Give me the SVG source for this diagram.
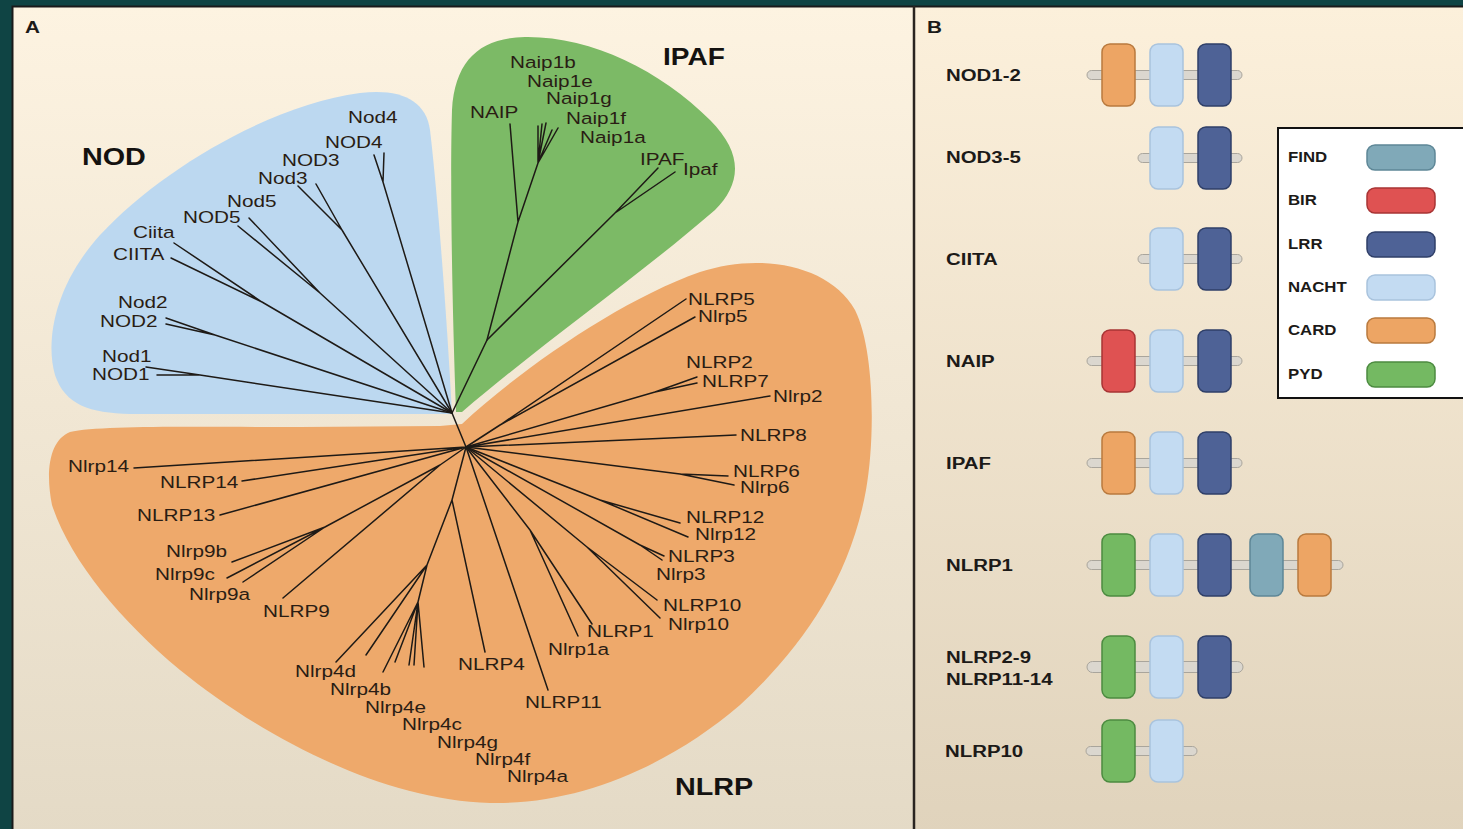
<svg xmlns="http://www.w3.org/2000/svg" width="1463" height="829" viewBox="0 0 1463 829">
<defs>
<linearGradient id="bgL" x1="0" y1="0" x2="0" y2="1">
<stop offset="0" stop-color="#fdf3e1"/><stop offset="1" stop-color="#e4dac6"/>
</linearGradient>
<linearGradient id="bgR" x1="0" y1="0" x2="0" y2="1">
<stop offset="0" stop-color="#fcf0db"/><stop offset="1" stop-color="#e0d3bc"/>
</linearGradient>
<style>
.t{font-family:"Liberation Sans",Arial,sans-serif;font-size:17px;fill:#2a1d14}
.b{font-family:"Liberation Sans",Arial,sans-serif;font-size:17px;font-weight:bold;fill:#1c1a18}
.h{font-family:"Liberation Sans",Arial,sans-serif;font-size:23px;font-weight:bold;fill:#141210}
.lg{font-family:"Liberation Sans",Arial,sans-serif;font-size:14px;font-weight:bold;fill:#1c1a18}
.br{stroke:#1e1a16;stroke-width:1.5;fill:none;stroke-linecap:round}
.bar{fill:#dbd7cf;stroke:#a9a59c;stroke-width:1}
.card{fill:#eda564;stroke:#b97a3e;stroke-width:1.5}
.nacht{fill:#c3dbf2;stroke:#a9c3dd;stroke-width:1.5}
.lrr{fill:#4e6296;stroke:#2f3f68;stroke-width:1.5}
.bir{fill:#df5252;stroke:#a83434;stroke-width:1.5}
.find{fill:#80a9b8;stroke:#5e8797;stroke-width:1.5}
.pyd{fill:#74b962;stroke:#4c8b40;stroke-width:1.5}
</style>
</defs>
<rect x="0" y="0" width="1463" height="829" fill="#0f4444"/>
<rect x="12" y="6" width="903" height="830" fill="url(#bgL)"/>
<rect x="915" y="6" width="560" height="830" fill="url(#bgR)"/>
<rect x="12.5" y="6.5" width="1460" height="830" fill="none" stroke="#1a1a1a" stroke-width="2"/>
<line x1="914" y1="6" x2="914" y2="829" stroke="#2a2420" stroke-width="2.5"/>

<g id="clades">
<path id="nod-clade" fill="#bcd8f0" d="M452,414 C446,300 436,180 430,130 C426,100 400,88 360,93 C270,105 160,170 100,235 C55,285 45,340 55,375 C65,405 90,413 130,414 Z"/>
<path id="ipaf-clade" fill="#7cba66" d="M456,412 C452,300 450,180 452,110 C455,60 480,38 525,37 C590,36 660,70 710,120 C745,155 740,185 715,210 C640,275 540,345 462,412 Z"/>
<path id="nlrp-clade" fill="#eea96b" d="M462,424 C520,370 620,300 700,272 C760,252 830,265 855,310 C875,350 875,440 866,490 C850,580 800,650 740,705 C670,765 580,805 490,803 C380,800 260,735 180,670 C120,620 70,560 52,505 C45,470 50,440 70,432 C100,425 200,427 300,427 L440,426 Z"/>
</g>

<g id="connectors" class="br">
<path d="M383,182 L452,413 M374,155 L383,182 M384,153 L383,182"/>
<path d="M342,230 L452,413 M298,186 L342,230 M316,184 L342,230"/>
<path d="M320,293 L452,413 M238,226 L320,293 M249,218 L320,293"/>
<path d="M262,302 L452,413 M171,258 L262,302 M174,243 L262,302"/>
<path d="M215,335 L452,413 M166,318 L215,335 M166,324 L215,335"/>
<path d="M200,375 L452,413 M146,367 L200,375 M157,375 L200,375"/>
<path d="M452,413 L487,340 L518,222 L510,124 M518,222 L538,163 M538,163 L538,126 M538,163 L542,124 M538,163 L546,123 M538,163 L552,130 M538,163 L558,128"/>
<path d="M487,340 L615,213 M615,213 L658,168 M615,213 L675,172"/>
<path d="M452,413 L466,447"/>
<path d="M466,447 L500,425 M500,425 L686,299 M500,425 L695,317"/>
<path d="M466,447 L655,392 M655,392 L697,377 M655,392 L697,383"/>
<path d="M466,447 L770,396 M466,447 L736,435"/>
<path d="M466,447 L680,474 M680,474 L728,476 M680,474 L734,485"/>
<path d="M466,447 L600,500 M600,500 L680,523 M600,500 L688,537"/>
<path d="M466,447 L640,545 M640,545 L664,556 M640,545 L662,560"/>
<path d="M466,447 L587,547 M587,547 L657,600 M587,547 L660,618"/>
<path d="M466,447 L530,530 M530,530 L592,624 M530,530 L578,636"/>
<path d="M466,447 L548,690"/>
<path d="M466,447 L452,500 M452,500 L485,652 M452,500 L427,565 M427,565 L336,662 M427,565 L366,655 M427,565 L418,602 M418,602 L383,672 M418,602 L395,662 M418,602 L409,665 M418,602 L414,665 M418,602 L424,667"/>
<path d="M466,447 L440,465 M440,465 L325,527 M440,465 L283,598 M325,527 L232,562 M325,527 L227,578 M325,527 L243,582"/>
<path d="M466,447 L220,515 M466,447 L242,481 M466,447 L134,468"/>
</g>

<g id="panel-a-labels">
<text class="b" transform="translate(25,33) scale(1.22,1)">A</text>
<text class="h" transform="translate(82,165) scale(1.25,1)">NOD</text>
<text class="h" transform="translate(663,65) scale(1.22,1)">IPAF</text>
<text class="h" transform="translate(675,795) scale(1.25,1)">NLRP</text>
</g>

<g id="nod-leaves">
<text class="t" transform="translate(348,123) scale(1.22,1)">Nod4</text>
<text class="t" transform="translate(325,148) scale(1.22,1)">NOD4</text>
<text class="t" transform="translate(282,166) scale(1.22,1)">NOD3</text>
<text class="t" transform="translate(258,184) scale(1.22,1)">Nod3</text>
<text class="t" transform="translate(227,207) scale(1.22,1)">Nod5</text>
<text class="t" transform="translate(183,223) scale(1.22,1)">NOD5</text>
<text class="t" transform="translate(133,238) scale(1.22,1)">Ciita</text>
<text class="t" transform="translate(113,260) scale(1.22,1)">CIITA</text>
<text class="t" transform="translate(118,308) scale(1.22,1)">Nod2</text>
<text class="t" transform="translate(100,327) scale(1.22,1)">NOD2</text>
<text class="t" transform="translate(102,362) scale(1.22,1)">Nod1</text>
<text class="t" transform="translate(92,380) scale(1.22,1)">NOD1</text>
</g>

<g id="ipaf-leaves">
<text class="t" transform="translate(510,68) scale(1.22,1)">Naip1b</text>
<text class="t" transform="translate(527,87) scale(1.22,1)">Naip1e</text>
<text class="t" transform="translate(546,104) scale(1.22,1)">Naip1g</text>
<text class="t" transform="translate(470,118) scale(1.22,1)">NAIP</text>
<text class="t" transform="translate(566,124) scale(1.22,1)">Naip1f</text>
<text class="t" transform="translate(580,143) scale(1.22,1)">Naip1a</text>
<text class="t" transform="translate(640,165) scale(1.22,1)">IPAF</text>
<text class="t" transform="translate(683,175) scale(1.22,1)">Ipaf</text>
</g>

<g id="nlrp-leaves">
<text class="t" transform="translate(688,305) scale(1.22,1)">NLRP5</text>
<text class="t" transform="translate(698,322) scale(1.22,1)">Nlrp5</text>
<text class="t" transform="translate(686,368) scale(1.22,1)">NLRP2</text>
<text class="t" transform="translate(702,387) scale(1.22,1)">NLRP7</text>
<text class="t" transform="translate(773,402) scale(1.22,1)">Nlrp2</text>
<text class="t" transform="translate(740,441) scale(1.22,1)">NLRP8</text>
<text class="t" transform="translate(733,477) scale(1.22,1)">NLRP6</text>
<text class="t" transform="translate(740,493) scale(1.22,1)">Nlrp6</text>
<text class="t" transform="translate(686,523) scale(1.22,1)">NLRP12</text>
<text class="t" transform="translate(695,540) scale(1.22,1)">Nlrp12</text>
<text class="t" transform="translate(668,562) scale(1.22,1)">NLRP3</text>
<text class="t" transform="translate(656,580) scale(1.22,1)">Nlrp3</text>
<text class="t" transform="translate(663,611) scale(1.22,1)">NLRP10</text>
<text class="t" transform="translate(668,630) scale(1.22,1)">Nlrp10</text>
<text class="t" transform="translate(587,637) scale(1.22,1)">NLRP1</text>
<text class="t" transform="translate(548,655) scale(1.22,1)">Nlrp1a</text>
<text class="t" transform="translate(458,670) scale(1.22,1)">NLRP4</text>
<text class="t" transform="translate(525,708) scale(1.22,1)">NLRP11</text>
<text class="t" transform="translate(68,472) scale(1.22,1)">Nlrp14</text>
<text class="t" transform="translate(160,488) scale(1.22,1)">NLRP14</text>
<text class="t" transform="translate(137,521) scale(1.22,1)">NLRP13</text>
<text class="t" transform="translate(166,557) scale(1.22,1)">Nlrp9b</text>
<text class="t" transform="translate(155,580) scale(1.22,1)">Nlrp9c</text>
<text class="t" transform="translate(189,600) scale(1.22,1)">Nlrp9a</text>
<text class="t" transform="translate(263,617) scale(1.22,1)">NLRP9</text>
<text class="t" transform="translate(295,677) scale(1.22,1)">Nlrp4d</text>
<text class="t" transform="translate(330,695) scale(1.22,1)">Nlrp4b</text>
<text class="t" transform="translate(365,713) scale(1.22,1)">Nlrp4e</text>
<text class="t" transform="translate(402,730) scale(1.22,1)">Nlrp4c</text>
<text class="t" transform="translate(437,748) scale(1.22,1)">Nlrp4g</text>
<text class="t" transform="translate(475,765) scale(1.22,1)">Nlrp4f</text>
<text class="t" transform="translate(507,782) scale(1.22,1)">Nlrp4a</text>
</g>

<text class="b" transform="translate(927,33) scale(1.22,1)">B</text>

<g id="row-nod1-2">
<text class="b" transform="translate(946,81) scale(1.2,1)">NOD1-2</text>
<rect class="bar" x="1087" y="70.5" width="155" height="9" rx="4.5"/>
<rect class="card" x="1102" y="44" width="33" height="62" rx="8"/>
<rect class="nacht" x="1150" y="44" width="33" height="62" rx="8"/>
<rect class="lrr" x="1198" y="44" width="33" height="62" rx="8"/>
</g>
<g id="row-nod3-5">
<text class="b" transform="translate(946,163) scale(1.2,1)">NOD3-5</text>
<rect class="bar" x="1138" y="153.5" width="104" height="9" rx="4.5"/>
<rect class="nacht" x="1150" y="127" width="33" height="62" rx="8"/>
<rect class="lrr" x="1198" y="127" width="33" height="62" rx="8"/>
</g>
<g id="row-ciita">
<text class="b" transform="translate(946,265) scale(1.2,1)">CIITA</text>
<rect class="bar" x="1138" y="254.5" width="104" height="9" rx="4.5"/>
<rect class="nacht" x="1150" y="228" width="33" height="62" rx="8"/>
<rect class="lrr" x="1198" y="228" width="33" height="62" rx="8"/>
</g>
<g id="row-naip">
<text class="b" transform="translate(946,367) scale(1.2,1)">NAIP</text>
<rect class="bar" x="1087" y="356.5" width="155" height="9" rx="4.5"/>
<rect class="bir" x="1102" y="330" width="33" height="62" rx="8"/>
<rect class="nacht" x="1150" y="330" width="33" height="62" rx="8"/>
<rect class="lrr" x="1198" y="330" width="33" height="62" rx="8"/>
</g>
<g id="row-ipaf">
<text class="b" transform="translate(946,469) scale(1.2,1)">IPAF</text>
<rect class="bar" x="1087" y="458.5" width="155" height="9" rx="4.5"/>
<rect class="card" x="1102" y="432" width="33" height="62" rx="8"/>
<rect class="nacht" x="1150" y="432" width="33" height="62" rx="8"/>
<rect class="lrr" x="1198" y="432" width="33" height="62" rx="8"/>
</g>
<g id="row-nlrp1">
<text class="b" transform="translate(946,571) scale(1.2,1)">NLRP1</text>
<rect class="bar" x="1087" y="560.5" width="256" height="9" rx="4.5"/>
<rect class="pyd" x="1102" y="534" width="33" height="62" rx="8"/>
<rect class="nacht" x="1150" y="534" width="33" height="62" rx="8"/>
<rect class="lrr" x="1198" y="534" width="33" height="62" rx="8"/>
<rect class="find" x="1250" y="534" width="33" height="62" rx="8"/>
<rect class="card" x="1298" y="534" width="33" height="62" rx="8"/>
</g>
<g id="row-nlrp2-9">
<text class="b" transform="translate(946,663) scale(1.2,1)">NLRP2-9</text>
<text class="b" transform="translate(946,685) scale(1.2,1)">NLRP11-14</text>
<rect class="bar" x="1087" y="661.5" width="156" height="11" rx="5.5"/>
<rect class="pyd" x="1102" y="636" width="33" height="62" rx="8"/>
<rect class="nacht" x="1150" y="636" width="33" height="62" rx="8"/>
<rect class="lrr" x="1198" y="636" width="33" height="62" rx="8"/>
</g>
<g id="row-nlrp10">
<text class="b" transform="translate(945,757) scale(1.2,1)">NLRP10</text>
<rect class="bar" x="1086" y="746.5" width="111" height="9" rx="4.5"/>
<rect class="pyd" x="1102" y="720" width="33" height="62" rx="8"/>
<rect class="nacht" x="1150" y="720" width="33" height="62" rx="8"/>
</g>

<g id="legend">
<rect x="1278" y="128" width="200" height="270" fill="#ffffff" stroke="#111111" stroke-width="2"/>
<text class="lg" transform="translate(1288,162) scale(1.2,1)">FIND</text>
<rect class="find" x="1367" y="145" width="68" height="25" rx="8"/>
<text class="lg" transform="translate(1288,205) scale(1.2,1)">BIR</text>
<rect class="bir" x="1367" y="188" width="68" height="25" rx="8"/>
<text class="lg" transform="translate(1288,249) scale(1.2,1)">LRR</text>
<rect class="lrr" x="1367" y="232" width="68" height="25" rx="8"/>
<text class="lg" transform="translate(1288,292) scale(1.2,1)">NACHT</text>
<rect class="nacht" x="1367" y="275" width="68" height="25" rx="8"/>
<text class="lg" transform="translate(1288,335) scale(1.2,1)">CARD</text>
<rect class="card" x="1367" y="318" width="68" height="25" rx="8"/>
<text class="lg" transform="translate(1288,379) scale(1.2,1)">PYD</text>
<rect class="pyd" x="1367" y="362" width="68" height="25" rx="8"/>
</g>
</svg>
